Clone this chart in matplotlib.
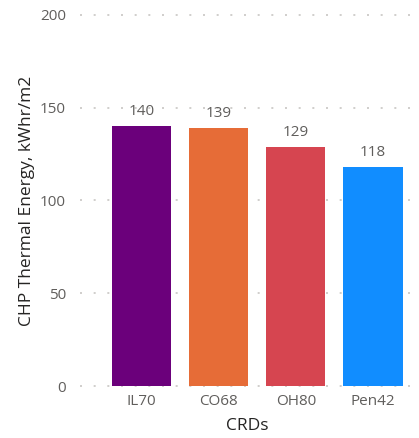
import matplotlib
matplotlib.use("Agg")
import matplotlib.pyplot as plt

categories = ["IL70", "CO68", "OH80", "Pen42"]
values = [140, 139, 129, 118]
colors = ["#6B007B", "#E66C37", "#D64550", "#118DFF"]
yticks = [0, 50, 100, 150, 200]

plt.rcParams["font.family"] = ["Open Sans", "DejaVu Sans"]

fig = plt.figure(figsize=(4.19, 4.38), dpi=100)
ax = fig.add_axes([0.191, 0.1187, 0.80, 0.8471])

x = list(range(len(categories)))
bars = ax.bar(x, values, width=0.77, color=colors, zorder=3)

for xi, v in zip(x, values):
    ax.annotate(f"{v}", (xi, v), xytext=(0, 5), textcoords="offset points",
                ha="center", va="bottom", fontsize=11, color="#605E5C")

ax.set_ylim(0, 200)
ax.set_xlim(-0.8, 3.55)
ax.set_yticks(yticks)
ax.set_xticks(x)
ax.set_xticklabels(categories)

for t in yticks:
    ax.axhline(t, color="#C8C6C4", linestyle=(0, (1.2, 7)), linewidth=1.2,
               zorder=1, clip_on=False)

for s in ax.spines.values():
    s.set_visible(False)
ax.tick_params(axis="both", length=0, labelsize=11, labelcolor="#605E5C")
ax.tick_params(axis="y", pad=10)
ax.tick_params(axis="x", pad=6)

ax.set_ylabel("CHP Thermal Energy, kWhr/m2", fontsize=12.5, color="#252423", labelpad=4)
ax.set_xlabel("CRDs", fontsize=12.5, color="#252423", labelpad=6)

fig.savefig("out.png", dpi=100)
